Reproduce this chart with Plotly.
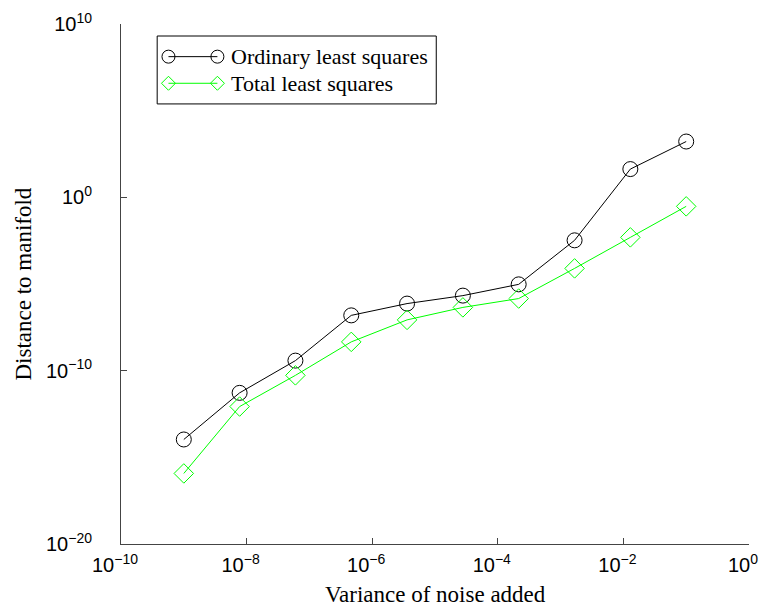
import plotly.graph_objects as go

noise_variance = [1e-9, 7.74e-9, 5.99e-8, 4.64e-7, 3.59e-6, 2.78e-5, 2.15e-4, 1.67e-3, 1.29e-2, 1e-1]
ols_distance = [10**-13.97, 10**-11.28, 10**-9.42, 10**-6.81, 10**-6.13,
                10**-5.67, 10**-5.02, 10**-2.48, 10**1.63, 10**3.22]
tls_distance = [10**-15.93, 10**-12.07, 10**-10.27, 10**-8.34, 10**-7.07,
                10**-6.35, 10**-5.84, 10**-4.10, 10**-2.31, 10**-0.52]
series_names = ["Ordinary least squares", "Total least squares"]
series_colors = ["black", "#00ff00"]

x_tickvals = [1e-10, 1e-8, 1e-6, 1e-4, 1e-2, 1e0]
x_ticktext = ["10<sup>−10</sup>", "10<sup>−8</sup>", "10<sup>−6</sup>",
              "10<sup>−4</sup>", "10<sup>−2</sup>", "10<sup>0</sup>"]
y_tickvals = [1e-20, 1e-10, 1e0, 1e10]
y_ticktext = ["10<sup>−20</sup>", "10<sup>−10</sup>", "10<sup>0</sup>", "10<sup>10</sup>"]

x_title = "Variance of noise added"
y_title = "Distance to manifold"

serif = "Liberation Serif, Times New Roman, serif"
sans = "Liberation Sans, Arial, sans-serif"

fig = go.Figure()
fig.add_trace(go.Scatter(
    x=noise_variance, y=ols_distance, mode="lines+markers",
    name=series_names[0], showlegend=False,
    line=dict(color=series_colors[0], width=1),
    marker=dict(symbol="circle-open", size=15, color=series_colors[0], line=dict(width=1)),
))
fig.add_trace(go.Scatter(
    x=noise_variance, y=tls_distance, mode="lines+markers",
    name=series_names[1], showlegend=False,
    line=dict(color=series_colors[1], width=1),
    marker=dict(symbol="diamond-open", size=15, color=series_colors[1], line=dict(width=1)),
))

# ---- custom legend (box, sample lines, two markers per entry, labels) ----
shapes = []
annotations = []
shapes.append(dict(type="rect", xref="paper", yref="paper",
                   x0=0.0576, x1=0.502, y0=0.8463, y1=0.9769,
                   line=dict(color="black", width=1), fillcolor="white", layer="above"))
row_y = [0.9372, 0.886]
mx = [0.0756, 0.1535]
for i, (name, col) in enumerate(zip(series_names, series_colors)):
    y = row_y[i]
    shapes.append(dict(type="line", xref="paper", yref="paper",
                       x0=mx[0], x1=mx[1], y0=y, y1=y,
                       line=dict(color=col, width=1), layer="above"))
    for xm in mx:
        if i == 0:
            shapes.append(dict(type="circle", xref="paper", yref="paper",
                               xsizemode="pixel", ysizemode="pixel",
                               xanchor=xm, yanchor=y, x0=-6.5, x1=6.5, y0=-6.5, y1=6.5,
                               line=dict(color=col, width=1), fillcolor="rgba(0,0,0,0)", layer="above"))
        else:
            shapes.append(dict(type="path", xref="paper", yref="paper",
                               xsizemode="pixel", ysizemode="pixel",
                               xanchor=xm, yanchor=y,
                               path="M -7 0 L 0 7 L 7 0 L 0 -7 Z",
                               line=dict(color=col, width=1), fillcolor="rgba(0,0,0,0)", layer="above"))
    annotations.append(dict(xref="paper", yref="paper", x=0.1725, y=y,
                            xanchor="left", yanchor="middle", showarrow=False,
                            text=name, font=dict(family=serif, size=22, color="black")))

annotations.append(dict(xref="paper", yref="paper", x=0.5, y=-0.098,
                        xanchor="center", yanchor="middle", showarrow=False,
                        text=x_title, font=dict(family=serif, size=23, color="black")))
annotations.append(dict(xref="paper", yref="paper", x=-0.156, y=0.499,
                        xanchor="center", yanchor="middle", showarrow=False, textangle=-90,
                        text=y_title, font=dict(family=serif, size=23, color="black")))

fig.update_layout(
    width=763, height=607,
    margin=dict(l=121, r=14, t=24, b=63, autoexpand=False),
    paper_bgcolor="white", plot_bgcolor="white",
    showlegend=False,
    shapes=shapes, annotations=annotations,
    xaxis=dict(
        type="log", range=[-10, 0], automargin=False,
        tickvals=x_tickvals, ticktext=x_ticktext,
        ticks="inside", ticklen=6, tickcolor="#444",
        showline=True, linecolor="#444", linewidth=1,
        showgrid=False, zeroline=False, mirror=False,
        tickfont=dict(family=sans, size=20, color="black"),
        ticklabelstandoff=3, ticklabelshift=-6, ticklabeloverflow="allow",
    ),
    yaxis=dict(
        type="log", range=[-20, 10], automargin=False,
        tickvals=y_tickvals, ticktext=y_ticktext,
        ticks="inside", ticklen=6, tickcolor="#444",
        showline=True, linecolor="#444", linewidth=1,
        showgrid=False, zeroline=False, mirror=False,
        tickfont=dict(family=sans, size=20, color="black"),
        ticklabelstandoff=24, ticklabeloverflow="allow",
    ),
)

fig.write_html("out.html")
